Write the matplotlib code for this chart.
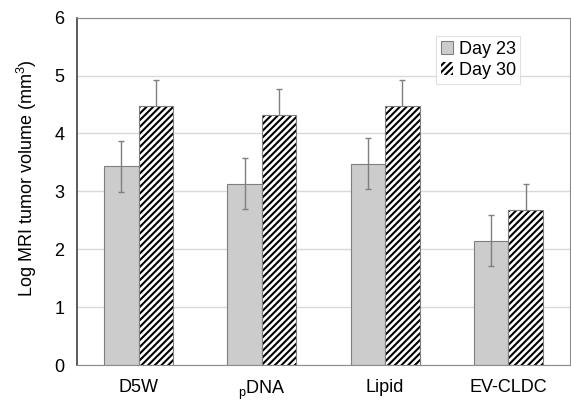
import numpy as np
import matplotlib
matplotlib.use('Agg')
from matplotlib import pyplot as plt

plt.rcParams['font.family'] = ['Liberation Sans', 'DejaVu Sans']
plt.rcParams['hatch.linewidth'] = 1.5
plt.rcParams['mathtext.fontset'] = 'custom'
plt.rcParams['mathtext.rm'] = 'Liberation Sans'

groups = ['D5W', r'$_{\mathrm{p}}$DNA', 'Lipid', 'EV-CLDC']
day23 = [3.43, 3.13, 3.48, 2.15]
day30 = [4.47, 4.32, 4.47, 2.68]
err23 = [0.44, 0.44, 0.44, 0.44]
err30 = [0.45, 0.44, 0.45, 0.45]

fig = plt.figure(figsize=(5.71, 4.01), dpi=100)
ax = fig.add_axes([77/571, 1-365/401, 493/571, 347.3/401])

x = np.arange(len(groups))
w = 0.28
ax.bar(x - w/2, day23, w, color='#cccccc', edgecolor='#7f7f7f', linewidth=0.8,
       label='Day 23', zorder=2)
ax.bar(x + w/2, day30, w, color='white', edgecolor='black', hatch='/////',
       linewidth=0, label='Day 30', zorder=2)
ax.bar(x + w/2, day30, w, color='none', edgecolor='#7f7f7f', linewidth=0.8, zorder=2)
ax.errorbar(x - w/2, day23, yerr=err23, fmt='none', ecolor='#7f7f7f',
            elinewidth=1, capsize=2.5, capthick=1, zorder=3)
ax.errorbar(x + w/2, day30, yerr=err30, fmt='none', ecolor='#7f7f7f',
            elinewidth=1, capsize=2.5, capthick=1, zorder=1.5)

ax.set_ylim(0, 6)
ax.set_xlim(-0.5, 3.5)
ax.set_yticks(range(7))
ax.set_xticks(x)
ax.set_xticklabels(groups)
ax.tick_params(axis='both', labelsize=13, colors='black', length=0)
ax.tick_params(axis='y', pad=9)
ax.tick_params(axis='x', pad=10)
ax.yaxis.grid(True, color='#d9d9d9', linewidth=1, zorder=0)
ax.set_axisbelow(True)
for s in ['top', 'right', 'bottom']:
    ax.spines[s].set_color('#8c8c8c')
ax.spines['left'].set_color('#404040')
ax.spines['left'].set_linewidth(1.2)

fig.text(27/571, 1-178/401, 'Log MRI tumor volume (mm$^3$)', fontsize=13,
         rotation=90, ha='center', va='center')

leg = ax.legend(loc='upper right', bbox_to_anchor=(0.899, 0.947), fontsize=13,
                frameon=True, fancybox=False, edgecolor='#d9d9d9',
                handlelength=0.7, handleheight=0.7, handletextpad=0.3,
                borderpad=0.25, borderaxespad=0, labelspacing=0.25)
leg.get_frame().set_linewidth(0.8)

plt.savefig('out.png', dpi=100)
